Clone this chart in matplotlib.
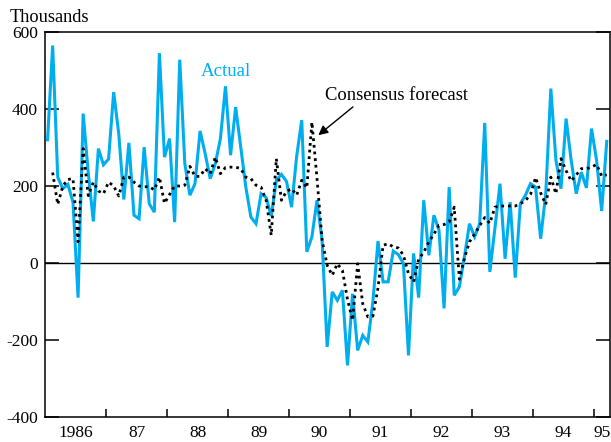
import numpy as np
import matplotlib
matplotlib.use("Agg")
import matplotlib.pyplot as plt
from matplotlib.ticker import FixedLocator, NullFormatter, FixedFormatter

plt.rcParams['font.family'] = ['Liberation Serif', 'DejaVu Serif']

# monthly payroll changes, thousands (Jan 1986 - Mar 1995)
actual = [
    320, 565, 223, 193, 204, 158, -90, 388, 235, 108, 297, 255,      # 1986
    270, 444, 336, 165, 312, 124, 115, 301, 154, 132, 545, 275,      # 1987
    323, 106, 528, 258, 176, 206, 343, 284, 219, 258, 323, 459,      # 1988
    280, 405, 301, 197, 119, 102, 180, 170, 122, 215, 230, 212,      # 1989
    145, 277, 371, 29, 68, 163, 59, -218, -75, -97, -71, -266,       # 1990
    -80, -227, -188, -205, -100, 57, -49, -49, 31, 22, -2, -240,     # 1991
    25, -90, 163, 20, 124, 85, -118, 197, -84, -62, 16, 102,         # 1992
    68, 102, 364, -23, 90, 206, 11, 158, -38, 154, 176, 206,         # 1993
    197, 63, 180, 453, 267, 193, 375, 267, 180, 236, 195, 349,       # 1994
    267, 135, 316,                                                   # 1995
]
forecast = [
    np.nan, 235, 152, 200, 217, 219, 55, 297, 175, 210, 187, 180,    # 1986
    210, 200, 174, 223, 223, 210, 200, 198, 198, 190, 223, 155,      # 1987
    178, 200, 200, 202, 251, 225, 225, 245, 232, 275, 232, 248,      # 1988
    249, 249, 245, 223, 219, 202, 197, 163, 72, 271, 163, 186,       # 1989
    193, 176, 215, 195, 366, 220, 60, -6, -32, -2, -19, -95,         # 1990
    -149, -2, -106, -140, -138, -65, 46, 50, 42, 39, 20, -28,        # 1991
    -49, 10, 28, 55, 75, 98, 100, 106, 145, -42, 12, 55,             # 1992
    75, 97, 118, 103, 145, 148, 148, 148, 148, 154, 162, 178,        # 1993
    222, 182, 152, 223, 180, 271, 240, 213, 229, 245, 245, 249,      # 1994
    256, 226, 229,                                                   # 1995
]
year_labels = ['1986', '87', '88', '89', '90', '91', '92', '93', '94', '95']
y_ticks = [-400, -200, 0, 200, 400, 600]

months = 1986 + (np.arange(len(actual)) + 0.5) / 12.0

fig = plt.figure(figsize=(6.11, 4.42), dpi=100)
ax = fig.add_axes([0.0737, 0.0566, 0.9247, 0.871])

ax.plot(months, actual, color='#00AEEF', lw=2.2, solid_joinstyle='miter', zorder=3)
ax.plot(months, forecast, color='black', lw=2.0, linestyle=(0, (1, 1.4)), zorder=4)
ax.axhline(0, color='black', lw=1.0, zorder=2)

ax.set_xlim(1986.0, 1995.262)
ax.set_ylim(-400, 600)

ax.set_yticks(y_ticks)
ax.set_yticklabels([str(v) for v in y_ticks])
ax.tick_params(axis='y', direction='in', length=10, width=1.1, right=True,
               labelsize=12.5, pad=5)

# year boundaries carry the tick marks, labels sit in the middle of each year
ax.xaxis.set_major_locator(FixedLocator(np.arange(1987, 1996)))
ax.xaxis.set_major_formatter(NullFormatter())
label_pos = list(np.arange(1986.5, 1995, 1.0)) + [1995.13]
ax.xaxis.set_minor_locator(FixedLocator(label_pos))
ax.xaxis.set_minor_formatter(FixedFormatter(year_labels))
ax.tick_params(axis='x', which='major', direction='in', length=6, width=1.1)
ax.tick_params(axis='x', which='minor', length=0, labelsize=12.5, pad=6)

for s in ax.spines.values():
    s.set_linewidth(1.1)

fig.text(10 / 611, 1 - 22 / 442, 'Thousands', fontsize=13.2, va='baseline', ha='left')
ax.text(1988.97, 485, 'Actual', color='#00AEEF', fontsize=13.6, ha='center', va='baseline')
ax.annotate('Consensus forecast', xy=(1990.48, 332), xytext=(1991.76, 423),
            fontsize=13.4, ha='center', va='baseline',
            arrowprops=dict(arrowstyle='-|>', color='black', lw=1.0,
                            mutation_scale=14, shrinkA=0, shrinkB=0,
                            relpos=(0.22, 0.0)))

fig.savefig('out.png', dpi=100)
